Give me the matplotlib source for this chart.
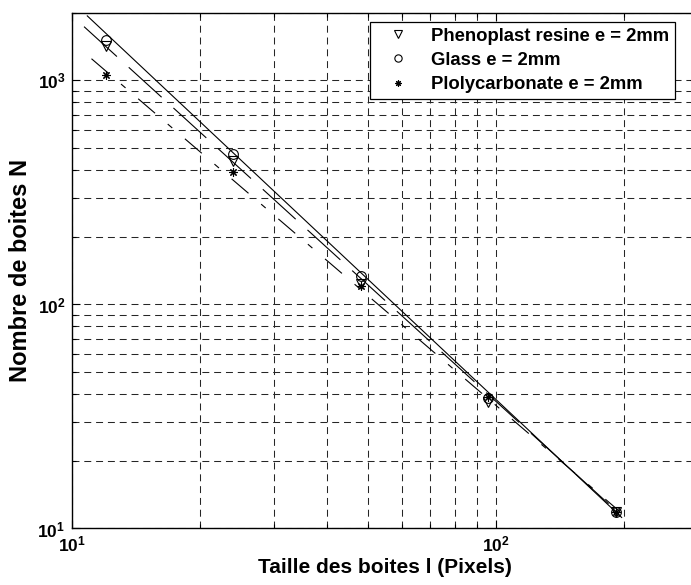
import numpy as np
import matplotlib
matplotlib.use('Agg')
import matplotlib.pyplot as plt
from matplotlib.ticker import FuncFormatter, NullFormatter, LogLocator

plt.rcParams['font.family'] = 'Liberation Sans'
plt.rcParams['font.weight'] = 'bold'
plt.rcParams['mathtext.fontset'] = 'custom'
plt.rcParams['mathtext.rm'] = 'Liberation Sans:bold'
plt.rcParams['mathtext.bf'] = 'Liberation Sans:bold'
plt.rcParams['lines.scale_dashes'] = False

# box sizes (pixels) and box counts
box_size = [12, 24, 48, 96, 192]
phenoplast = [1420, 435, 124, 36.7, 11.8]
glass = [1510, 470, 134, 38.3, 11.9]
polycarbonate = [1055, 390, 121, 38.6, 11.9]

# end points of the fitted lines
glass_fit_x = [10.85, 198]
glass_fit_y = [1941, 11.2]
phenoplast_fit_x = [10.66, 196]
phenoplast_fit_y = [1738, 11.6]
polycarbonate_fit_x = [11.1, 196]
polycarbonate_fit_y = [1250, 11.9]

labels = ['Phenoplast resine e = 2mm', 'Glass e = 2mm', 'Plolycarbonate e = 2mm']

fig = plt.figure(figsize=(6.91, 5.85), dpi=100)
ax = fig.add_axes([0.1046, 0.0966, 0.9057, 0.8812])
ax.set_xscale('log')
ax.set_yscale('log')

lw = 0.8
p1, = ax.plot(box_size, phenoplast, linestyle='none', marker='v', markersize=7,
              markerfacecolor='none', markeredgecolor='k', markeredgewidth=0.8)
p2, = ax.plot(box_size, glass, linestyle='none', marker='o', markersize=7,
              markerfacecolor='none', markeredgecolor='k', markeredgewidth=0.8)
p3, = ax.plot(box_size, polycarbonate, linestyle='none', marker=(8, 2, 0), markersize=6,
              markeredgecolor='k', markeredgewidth=0.8)

ax.plot(glass_fit_x, glass_fit_y, color='k', linewidth=lw)
ax.plot(phenoplast_fit_x, phenoplast_fit_y, color='k', linewidth=lw, dashes=(32, 11.5))
ax.plot(polycarbonate_fit_x, polycarbonate_fit_y, color='k', linewidth=lw,
        dashes=(16, 12, 4.3, 12))

ax.set_xlim(10, 300)
ax.set_ylim(10, 2000)

ax.xaxis.set_minor_locator(LogLocator(base=10, subs=np.arange(2, 10)))
ax.yaxis.set_minor_locator(LogLocator(base=10, subs=np.arange(2, 10)))
fmt = FuncFormatter(lambda v, p: r'$\mathbf{10^{%d}}$' % round(np.log10(v)))
ax.xaxis.set_major_formatter(fmt)
ax.yaxis.set_major_formatter(fmt)
ax.xaxis.set_minor_formatter(NullFormatter())
ax.yaxis.set_minor_formatter(NullFormatter())

ax.grid(True, which='both', color='0.15', linestyle=(0, (5, 3.5)), linewidth=0.75)
ax.tick_params(which='both', direction='in', top=True, right=True, labelsize=12.5, width=0.8)
ax.tick_params(which='major', length=6)
ax.tick_params(axis='x', which='major', pad=4)
ax.tick_params(axis='y', which='major', pad=5)
ax.tick_params(which='minor', length=3)
for s in ax.spines.values():
    s.set_linewidth(1.0)

ax.set_xlabel('Taille des boites l (Pixels)', fontsize=15, fontweight='bold', labelpad=3)
ax.set_ylabel('Nombre de boites N', fontsize=17, fontweight='bold', labelpad=4)

leg = ax.legend([p1, p2, p3], labels, loc='upper right', bbox_to_anchor=(0.963, 0.9825),
                borderaxespad=0, fancybox=False, framealpha=1, edgecolor='k',
                fontsize=13.3, handlelength=2.4, handletextpad=0.6, labelspacing=0.4,
                borderpad=0.3, markerscale=0.75)
leg.get_frame().set_linewidth(0.9)

fig.savefig('out.png', dpi=100)
